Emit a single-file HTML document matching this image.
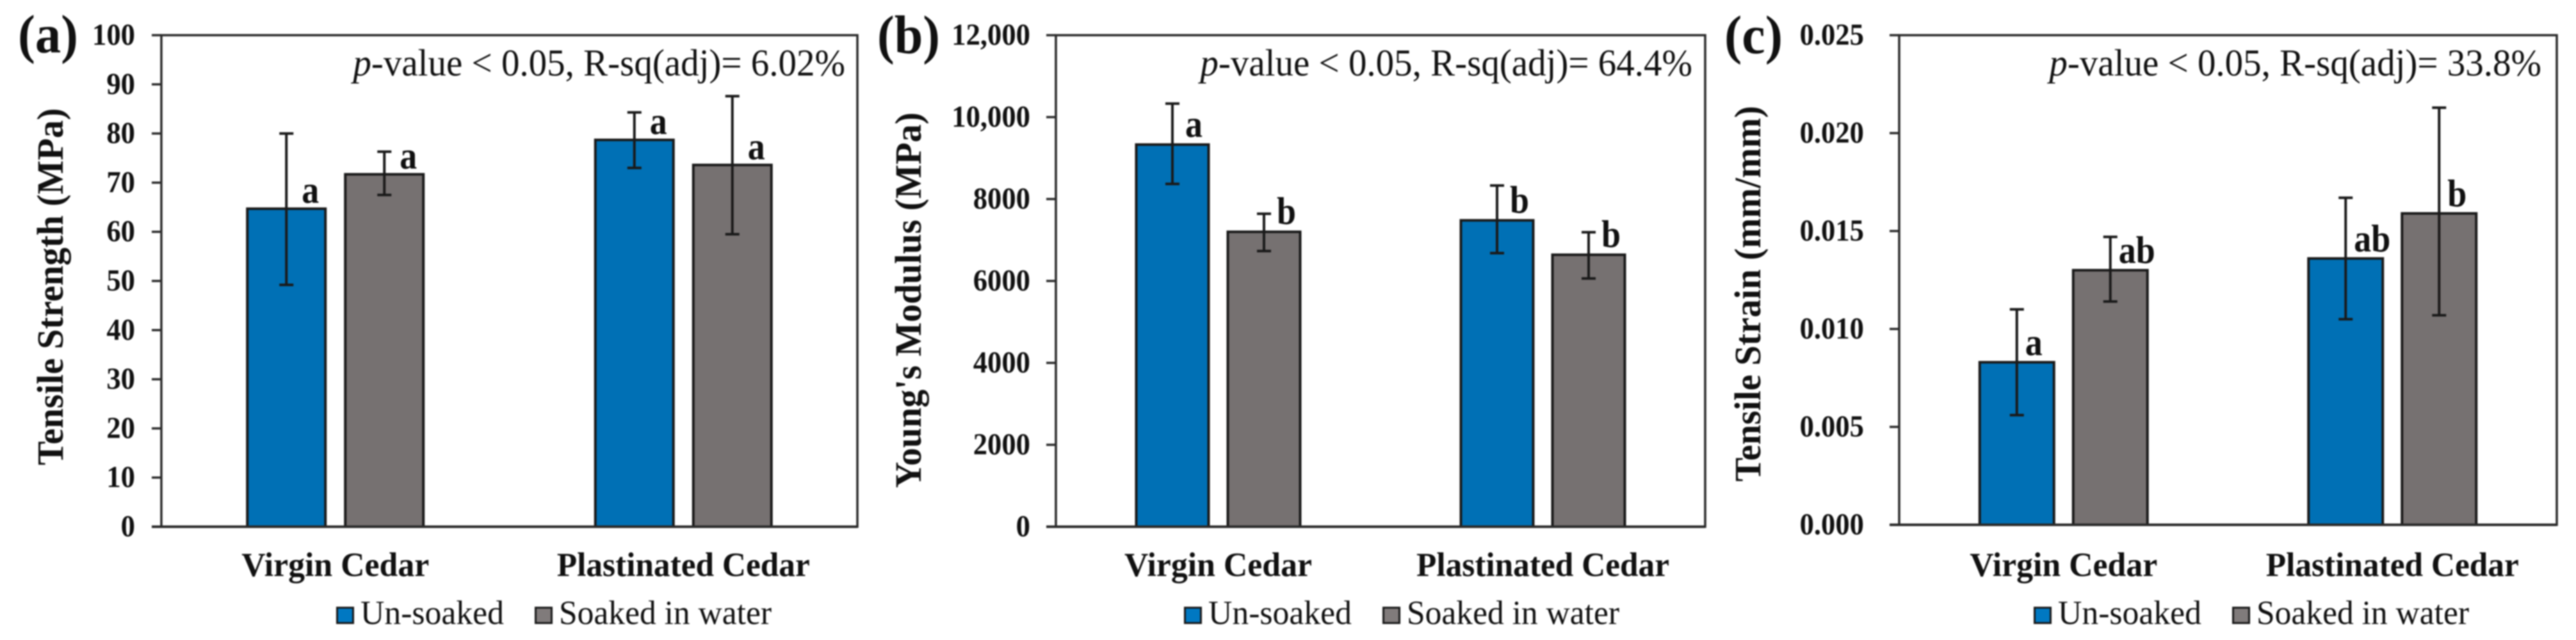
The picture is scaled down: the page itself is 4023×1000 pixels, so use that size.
<!DOCTYPE html>
<html lang="en">
<head>
<meta charset="utf-8">
<title>Tensile properties of virgin and plastinated cedar</title>
<style>
html,body{margin:0;padding:0;background:#fff;width:4023px;height:1000px;overflow:hidden}
svg{display:block;font-family:"Liberation Serif",serif}
</style>
</head>
<body>
<svg id="figure" xmlns="http://www.w3.org/2000/svg" width="4023" height="1000" viewBox="0 0 4023 1000">
<rect x="0" y="0" width="4023" height="1000" fill="#ffffff"/>
<g id="chart-layer" style="filter:blur(1px)">
<g id="static-text" fill="#111">
<text x="28" y="82" font-size="85" font-weight="bold" textLength="94" lengthAdjust="spacingAndGlyphs">(a)</text>
<text x="1370" y="83" font-size="85" font-weight="bold" textLength="98" lengthAdjust="spacingAndGlyphs">(b)</text>
<text x="2693" y="83" font-size="85" font-weight="bold" textLength="91" lengthAdjust="spacingAndGlyphs">(c)</text>
<text transform="translate(98,448) rotate(-90)" text-anchor="middle" font-size="58" font-weight="bold" textLength="558" lengthAdjust="spacingAndGlyphs">Tensile Strength (MPa)</text>
<text transform="translate(1438,469) rotate(-90)" text-anchor="middle" font-size="58" font-weight="bold" textLength="587" lengthAdjust="spacingAndGlyphs">Young's Modulus (MPa)</text>
<text transform="translate(2749,459) rotate(-90)" text-anchor="middle" font-size="58" font-weight="bold" textLength="587" lengthAdjust="spacingAndGlyphs">Tensile Strain (mm/mm)</text>
<text transform="translate(1320,118) scale(0.966,1)" text-anchor="end" font-size="59"><tspan font-style="italic">p</tspan>-value &lt; 0.05, R-sq(adj)= 6.02%</text>
<text transform="translate(2643,118) scale(0.966,1)" text-anchor="end" font-size="59"><tspan font-style="italic">p</tspan>-value &lt; 0.05, R-sq(adj)= 64.4%</text>
<text transform="translate(3969,118) scale(0.966,1)" text-anchor="end" font-size="59"><tspan font-style="italic">p</tspan>-value &lt; 0.05, R-sq(adj)= 33.8%</text>
</g>
</g>
</svg>
<script>
const categories = ['Virgin Cedar', 'Plastinated Cedar'];
const seriesNames = ['Un-soaked', 'Soaked in water'];

const strengthTicks = [0, 10, 20, 30, 40, 50, 60, 70, 80, 90, 100];
const strengthTickLabels = ['0', '10', '20', '30', '40', '50', '60', '70', '80', '90', '100'];
const strengthUnsoaked = [64.7, 78.7];
const strengthSoaked = [71.7, 73.6];
const strengthUnsoakedUpper = [80.0, 84.3];
const strengthUnsoakedLower = [49.2, 73.0];
const strengthSoakedUpper = [76.3, 87.6];
const strengthSoakedLower = [67.5, 59.5];
const strengthUnsoakedLetters = ['a', 'a'];
const strengthSoakedLetters = ['a', 'a'];

const modulusTicks = [0, 2000, 4000, 6000, 8000, 10000, 12000];
const modulusTickLabels = ['0', '2000', '4000', '6000', '8000', '10,000', '12,000'];
const modulusUnsoaked = [9330, 7480];
const modulusSoaked = [7200, 6640];
const modulusUnsoakedUpper = [10330, 8330];
const modulusUnsoakedLower = [8370, 6680];
const modulusSoakedUpper = [7640, 7190];
const modulusSoakedLower = [6730, 6060];
const modulusUnsoakedLetters = ['a', 'b'];
const modulusSoakedLetters = ['b', 'b'];

const strainTicks = [0, 0.005, 0.01, 0.015, 0.02, 0.025];
const strainTickLabels = ['0.000', '0.005', '0.010', '0.015', '0.020', '0.025'];
const strainUnsoaked = [0.0083, 0.0136];
const strainSoaked = [0.0130, 0.0159];
const strainUnsoakedUpper = [0.0110, 0.0167];
const strainUnsoakedLower = [0.0056, 0.0105];
const strainSoakedUpper = [0.0147, 0.0213];
const strainSoakedLower = [0.0114, 0.0107];
const strainUnsoakedLetters = ['a', 'ab'];
const strainSoakedLetters = ['ab', 'b'];

const NS = 'http://www.w3.org/2000/svg';
const layer = document.getElementById('chart-layer');
const BLUE = '#0070b5';
const GREY = '#767171';
const INK = '#1a1a1a';

function make(tag, attrs, parent) {
  const el = document.createElementNS(NS, tag);
  for (const k in attrs) el.setAttribute(k, attrs[k]);
  (parent || layer).appendChild(el);
  return el;
}

function drawPanel(p) {
  const group = make('g', {});
  
  

  const yScale = v => p.bottom - (v - p.yMin) / (p.yMax - p.yMin) * (p.bottom - p.top);
  const band = (p.right - p.left) / categories.length;
  const groupCenter = i => p.left + band * (i + 0.5);
  const barCenter = (i, s) => groupCenter(i) + (s === 0 ? -1 : 1) * (p.barWidth + p.barGap) / 2;

  const frame = make('rect', {x: p.left, y: p.top, width: p.right - p.left, height: p.bottom - p.top, fill: 'none', stroke: '#2a2a2a', 'stroke-width': 3.5}, group);
  
  

  p.ticks.forEach((t, i) => {
    const y = yScale(t);
    const mark = make('line', {x1: p.left - 15, x2: p.left, y1: y, y2: y, stroke: '#2a2a2a', 'stroke-width': 3.5}, group);
    
    
    const label = make('text', {transform: `translate(${p.tickRight},${y + 15}) scale(0.93,1)`, 'text-anchor': 'end', 'font-size': 48, 'font-weight': 'bold', fill: '#111'}, group);
    
    
    label.textContent = p.tickLabels[i];
  });

  p.series.forEach((s, si) => {
    s.values.forEach((v, i) => {
      const cx = barCenter(i, si);
      const top = yScale(v);
      const bar = make('rect', {x: cx - p.barWidth / 2, y: top, width: p.barWidth, height: p.bottom - top, fill: si === 0 ? BLUE : GREY, stroke: INK, 'stroke-width': 4}, group);
      
      
    });
  });

  const axis = make('line', {x1: p.left - 15, x2: p.right, y1: p.bottom, y2: p.bottom, stroke: '#2a2a2a', 'stroke-width': 4}, group);
  
  

  p.series.forEach((s, si) => {
    s.values.forEach((v, i) => {
      const cx = barCenter(i, si);
      const yu = yScale(s.upper[i]);
      const yl = yScale(s.lower[i]);
      const err = make('path', {d: `M${cx - 11} ${yu}H${cx + 11}M${cx} ${yu}V${yl}M${cx - 11} ${yl}H${cx + 11}`, fill: 'none', stroke: INK, 'stroke-width': 4}, group);
      
      
      const letter = make('text', {transform: `translate(${cx + p.letterDx},${yScale(v) - p.letterDy}) scale(0.9,1)`, 'font-size': 60, 'font-weight': 'bold', fill: '#111'}, group);
      
      
      letter.textContent = s.letters[i];
    });
  });

  categories.forEach((c, i) => {
    const label = make('text', {x: groupCenter(i), y: 900, 'text-anchor': 'middle', 'font-size': 53, 'font-weight': 'bold', fill: '#111', textLength: c.length > 12 ? 395 : 293, lengthAdjust: 'spacingAndGlyphs'}, group);
    
    
    label.textContent = c;
  });

  const legend = make('g', {}, group);
  
  
  seriesNames.forEach((n, si) => {
    const sx = si === 0 ? p.legendX : p.legendX + 310;
    const swatch = make('rect', {x: sx + 1.5, y: 949.5, width: 25, height: 24, fill: si === 0 ? '#0078c2' : '#807b7b', stroke: INK, 'stroke-width': 3}, legend);
    
    
    const text = make('text', {x: sx + 38, y: 975, 'font-size': 53, fill: '#111', textLength: si === 0 ? 224 : 332, lengthAdjust: 'spacingAndGlyphs'}, legend);
    
    
    text.textContent = n;
  });
}

drawPanel({id: 'strength', left: 252, right: 1339, top: 55, bottom: 823, yMin: 0, yMax: 100,
  ticks: strengthTicks, tickLabels: strengthTickLabels, tickRight: 211, barWidth: 122, barGap: 31,
  letterDx: 24, letterDy: 9, legendX: 525,
  series: [
    {values: strengthUnsoaked, upper: strengthUnsoakedUpper, lower: strengthUnsoakedLower, letters: strengthUnsoakedLetters},
    {values: strengthSoaked, upper: strengthSoakedUpper, lower: strengthSoakedLower, letters: strengthSoakedLetters}
  ]});
drawPanel({id: 'modulus', left: 1649, right: 2663, top: 55, bottom: 823, yMin: 0, yMax: 12000,
  ticks: modulusTicks, tickLabels: modulusTickLabels, tickRight: 1609, barWidth: 113, barGap: 30,
  letterDx: 20, letterDy: 12, legendX: 1849,
  series: [
    {values: modulusUnsoaked, upper: modulusUnsoakedUpper, lower: modulusUnsoakedLower, letters: modulusUnsoakedLetters},
    {values: modulusSoaked, upper: modulusSoakedUpper, lower: modulusSoakedLower, letters: modulusSoakedLetters}
  ]});
drawPanel({id: 'strain', left: 2966, right: 3993, top: 55, bottom: 820, yMin: 0, yMax: 0.025,
  ticks: strainTicks, tickLabels: strainTickLabels, tickRight: 2911, barWidth: 116, barGap: 30,
  letterDx: 13, letterDy: 11, legendX: 3176,
  series: [
    {values: strainUnsoaked, upper: strainUnsoakedUpper, lower: strainUnsoakedLower, letters: strainUnsoakedLetters},
    {values: strainSoaked, upper: strainSoakedUpper, lower: strainSoakedLower, letters: strainSoakedLetters}
  ]});
</script>
</body>
</html>
